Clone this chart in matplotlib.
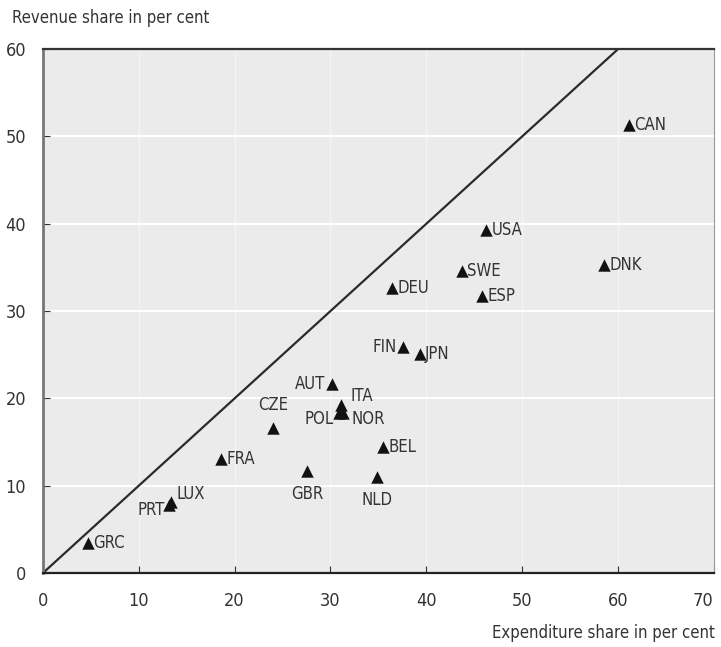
import matplotlib as mpl
mpl.rcParams['figure.dpi'] = 100
import matplotlib.pyplot as plt

# fuente estrecha (la del original es condensada)
plt.rcParams['font.family'] = ['Liberation Sans Narrow', 'DejaVu Sans']
plt.rcParams['font.stretch'] = 'condensed'

# paises y coordenadas
paises = ['CAN', 'USA', 'DNK', 'SWE', 'DEU', 'ESP', 'FIN', 'JPN', 'AUT', 'ITA',
          'POL', 'NOR', 'CZE', 'BEL', 'GBR', 'NLD', 'FRA', 'LUX', 'PRT', 'GRC']
gasto = [61.1, 46.2, 58.5, 43.7, 36.4, 45.8, 37.6, 39.3, 30.2, 31.1,
         30.9, 31.3, 24.0, 35.5, 27.6, 34.9, 18.6, 13.4, 13.2, 4.7]
ingreso = [51.3, 39.3, 35.3, 34.6, 32.7, 31.7, 25.9, 25.1, 21.7, 19.2,
           18.3, 18.3, 16.6, 14.4, 11.7, 11.0, 13.0, 8.1, 7.8, 3.4]

# donde va cada etiqueta respecto al triangulo (dx, dy en puntos, alineacion)
pos = {'FIN': (-5, 0, 'right', 'center'), 'AUT': (-5, 0, 'right', 'center'),
       'POL': (-4, -4, 'right', 'center'), 'PRT': (-3, -4, 'right', 'center'),
       'CZE': (0, 10, 'center', 'bottom'), 'ITA': (7, 7, 'left', 'center'),
       'NOR': (6, -4, 'left', 'center'), 'LUX': (4, 6, 'left', 'center'),
       'GBR': (0, -10, 'center', 'top'), 'NLD': (0, -10, 'center', 'top')}

fig = plt.figure(figsize=(7.21, 6.47))
ax = fig.add_axes([0.0596, 0.1144, 0.9304, 0.8096])
ax.set_facecolor('#ebebeb')

ax.plot([0, 60], [0, 60], color='#2b2b2b', lw=1.6, zorder=2)
ax.scatter(gasto, ingreso, marker='^', s=80, color='#111111', zorder=3, linewidths=0)

for p, x, y in zip(paises, gasto, ingreso):
    dx, dy, ha, va = pos.get(p, (4, 0, 'left', 'center'))
    ax.annotate(p, (x, y), xytext=(dx, dy), textcoords='offset points',
                ha=ha, va=va, fontsize=12, color='#333333')

ax.set_xlim(0, 70)
ax.set_ylim(0, 60)
ax.set_xticks(range(0, 71, 10))
ax.set_yticks(range(0, 61, 10))
ax.grid(True, axis='y', color='white', lw=1.5, zorder=0)
ax.grid(True, axis='x', color='#f4f4f4', lw=1.0, zorder=0)
ax.set_axisbelow(True)
ax.tick_params(direction='in', length=5, labelsize=13, colors='#333333')
ax.tick_params(axis='x', pad=14)
ax.tick_params(axis='y', pad=12)
ax.get_xticklabels()[-1].set_ha('right')

ax.spines['left'].set_color('#777777')
ax.spines['left'].set_linewidth(2)
ax.spines['bottom'].set_color('#222222')
ax.spines['bottom'].set_linewidth(1.6)
ax.spines['top'].set_color('#333333')
ax.spines['top'].set_linewidth(1.6)
ax.spines['right'].set_color('#999999')

fig.text(0.017, 0.972, 'Revenue share in per cent', fontsize=12, color='#333333', va='center')
fig.text(0.992, 0.022, 'Expenditure share in per cent', fontsize=12, color='#333333',
         ha='right', va='center')

plt.savefig('out.png')
